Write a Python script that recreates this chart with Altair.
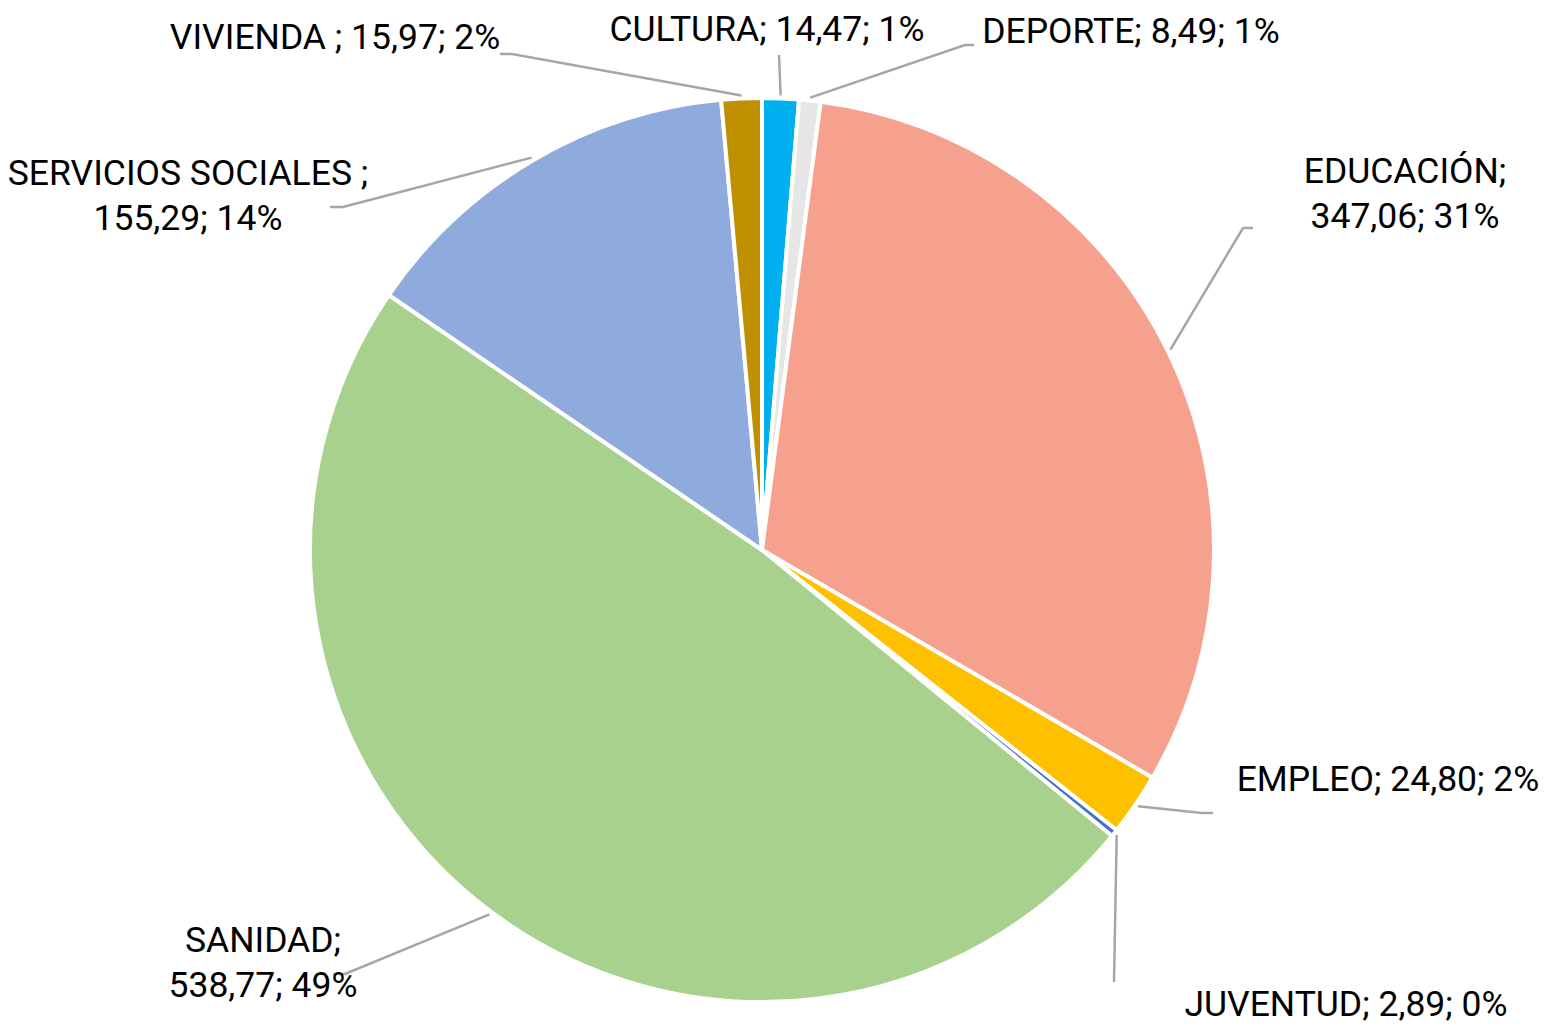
import math
import altair as alt
import pandas as pd

# ---------------- data ----------------
categories = ["CULTURA", "DEPORTE", "EDUCACIÓN", "EMPLEO", "JUVENTUD",
              "SANIDAD", "SERVICIOS SOCIALES ", "VIVIENDA "]
values = [14.47, 8.49, 347.06, 24.80, 2.89, 538.77, 155.29, 15.97]
percent_labels = ["1%", "1%", "31%", "2%", "0%", "49%", "14%", "2%"]
colors = ["#00B0F0", "#E7E6E6", "#F6A18E", "#FFC000", "#4472C4",
          "#A9D18E", "#8FAADC", "#BF9000"]

# ---------------- layout (page pixels) ----------------
W, H = 1535, 1020
OFF = 8                      # page margin
CX, CY = 762 - OFF, 550 - OFF
R = 452
FONT = "Roboto"
FS = 35.5

# first-line centre of each label, whether the name sits on its own line,
# leader-line bend + end
label_layout = {
    "CULTURA":             dict(tx=767,  ty=30,  wrap=False, pts=[(779, 55)]),
    "DEPORTE":             dict(tx=1131, ty=32,  wrap=False, pts=[(965, 45), (974, 45)]),
    "EDUCACIÓN":           dict(tx=1405, ty=172, wrap=True,  pts=[(1243, 228), (1253, 228)]),
    "EMPLEO":              dict(tx=1388, ty=780, wrap=False, pts=[(1202, 813), (1213, 813)]),
    "JUVENTUD":            dict(tx=1346, ty=1005, wrap=False, pts=[(1114, 982)]),
    "SANIDAD":             dict(tx=263,  ty=941, wrap=True,  pts=[(345, 974), (333, 974)]),
    "SERVICIOS SOCIALES ": dict(tx=188,  ty=174, wrap=True,  pts=[(343, 207), (330, 207)]),
    "VIVIENDA ":           dict(tx=335,  ty=38,  wrap=False, pts=[(512, 54), (500, 54)]),
}

def fmt(v):
    return f"{v:.2f}".replace(".", ",")

total = sum(values)
pie_rows, text_rows, line_rows = [], [], []
cum = 0.0
for i, (c, v, p) in enumerate(zip(categories, values, percent_labels)):
    pie_rows.append(dict(category=c, value=v, order=i))
    mid = (cum + v / 2) / total * 2 * math.pi
    cum += v
    lay = label_layout[c]
    sep = "\n" if lay["wrap"] else " "
    text_rows.append(dict(category=c, x=lay["tx"] - OFF, y=lay["ty"] - OFF,
                          text=f"{c};{sep}{fmt(v)}; {p}"))
    sx = CX + (R + 3) * math.sin(mid)
    sy = CY - (R + 3) * math.cos(mid)
    line_rows.append(dict(category=c, seq=0, x=sx, y=sy))
    for k, (px, py) in enumerate(lay["pts"]):
        line_rows.append(dict(category=c, seq=k + 1, x=px - OFF, y=py - OFF))

pie_df = pd.DataFrame(pie_rows)
text_df = pd.DataFrame(text_rows)
line_df = pd.DataFrame(line_rows)

pie = alt.Chart(pie_df).mark_arc(outerRadius=R, stroke="white", strokeWidth=4).encode(
    theta=alt.Theta("value:Q", stack=True),
    color=alt.Color("category:N", scale=alt.Scale(domain=categories, range=colors), legend=None),
    order=alt.Order("order:Q"),
    x=alt.value(CX),
    y=alt.value(CY),
)

lines = alt.Chart(line_df).mark_line(color="#A6A6A6", strokeWidth=2.5).encode(
    x=alt.X("x:Q", scale=None, axis=None),
    y=alt.Y("y:Q", scale=None, axis=None),
    detail="category:N",
    order="seq:Q",
)

texts = alt.Chart(text_df).mark_text(
    font=FONT, fontSize=FS, lineBreak="\n", lineHeight=45,
    align="center", baseline="middle", color="#000000",
).encode(
    x=alt.X("x:Q", scale=None, axis=None),
    y=alt.Y("y:Q", scale=None, axis=None),
    text="text:N",
)

chart = alt.layer(pie, lines, texts).properties(
    width=W, height=H, autosize=alt.AutoSizeParams(type="none"), padding=0,
).configure_view(stroke=None)

chart.save("out.html", embed_options={"renderer": "svg", "actions": False})
